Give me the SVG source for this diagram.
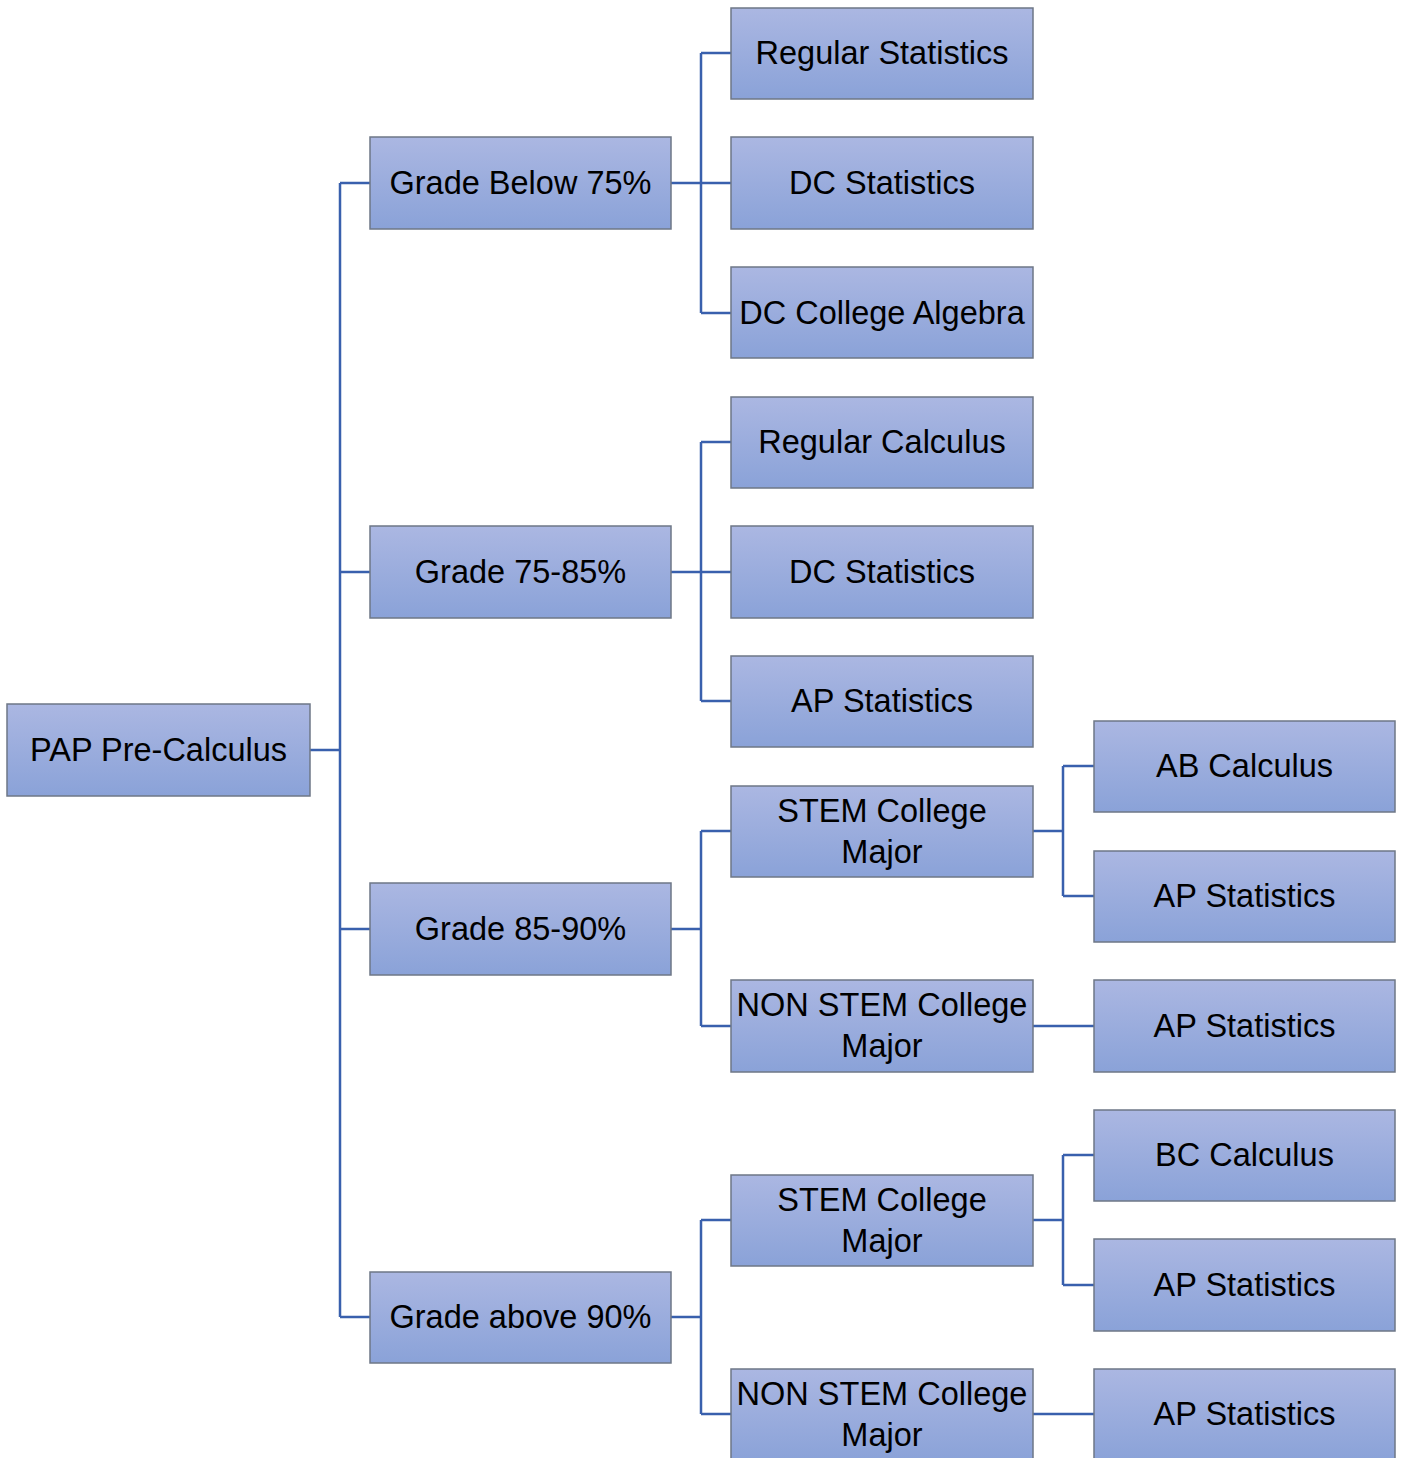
<svg xmlns="http://www.w3.org/2000/svg" width="1408" height="1458" viewBox="0 0 1408 1458">
<defs>
<linearGradient id="g" x1="0" y1="0" x2="0" y2="1">
<stop offset="0" stop-color="#abb7e2"/>
<stop offset="1" stop-color="#8aa2d8"/>
</linearGradient>
</defs>
<style>
.box{fill:url(#g);stroke:#6e7786;stroke-width:1.5}
.t{font-family:"Liberation Sans",Arial,sans-serif;font-size:32.5px;fill:#000;text-anchor:middle}
.c{fill:none;stroke:#3960ad;stroke-width:2.5}
</style>
<rect width="1408" height="1458" fill="#fff"/>
<g id="connectors">
<path class="c" d="M310 750H340M340 183V1317M340 183H370M340 572H370M340 929H370M340 1317H370"/>
<path class="c" d="M671 183H701M701 53V313M701 53H731M701 183H731M701 313H731"/>
<path class="c" d="M671 572H701M701 442V701M701 442H731M701 572H731M701 701H731"/>
<path class="c" d="M671 929H701M701 831V1026M701 831H731M701 1026H731"/>
<path class="c" d="M671 1317H701M701 1220V1414M701 1220H731M701 1414H731"/>
<path class="c" d="M1033 831H1063M1063 766V896M1063 766H1094M1063 896H1094"/>
<path class="c" d="M1033 1026H1094"/>
<path class="c" d="M1033 1220H1063M1063 1155V1285M1063 1155H1094M1063 1285H1094"/>
<path class="c" d="M1033 1414H1094"/>
</g>
<g id="n0"><rect class="box" x="7" y="704" width="303" height="92"/><text class="t" x="158.5" y="761">PAP Pre-Calculus</text></g>
<g id="n1"><rect class="box" x="370" y="137" width="301" height="92"/><text class="t" x="520.5" y="194">Grade Below 75%</text></g>
<g id="n2"><rect class="box" x="370" y="526" width="301" height="92"/><text class="t" x="520.5" y="583">Grade 75-85%</text></g>
<g id="n3"><rect class="box" x="370" y="883" width="301" height="92"/><text class="t" x="520.5" y="940">Grade 85-90%</text></g>
<g id="n4"><rect class="box" x="370" y="1272" width="301" height="91"/><text class="t" x="520.5" y="1328">Grade above 90%</text></g>
<g id="n5"><rect class="box" x="731" y="8" width="302" height="91"/><text class="t" x="882" y="64">Regular Statistics</text></g>
<g id="n6"><rect class="box" x="731" y="137" width="302" height="92"/><text class="t" x="882" y="194">DC Statistics</text></g>
<g id="n7"><rect class="box" x="731" y="267" width="302" height="91"/><text class="t" x="882" y="324">DC College Algebra</text></g>
<g id="n8"><rect class="box" x="731" y="397" width="302" height="91"/><text class="t" x="882" y="453">Regular Calculus</text></g>
<g id="n9"><rect class="box" x="731" y="526" width="302" height="92"/><text class="t" x="882" y="583">DC Statistics</text></g>
<g id="n10"><rect class="box" x="731" y="656" width="302" height="91"/><text class="t" x="882" y="712">AP Statistics</text></g>
<g id="n11"><rect class="box" x="731" y="786" width="302" height="91"/><text class="t" x="882" y="821.5">STEM College</text><text class="t" x="882" y="862.5">Major</text></g>
<g id="n12"><rect class="box" x="731" y="980" width="302" height="92"/><text class="t" x="882" y="1016">NON STEM College</text><text class="t" x="882" y="1057">Major</text></g>
<g id="n13"><rect class="box" x="731" y="1175" width="302" height="91"/><text class="t" x="882" y="1210.5">STEM College</text><text class="t" x="882" y="1251.5">Major</text></g>
<g id="n14"><rect class="box" x="731" y="1369" width="302" height="92"/><text class="t" x="882" y="1404.5">NON STEM College</text><text class="t" x="882" y="1445.5">Major</text></g>
<g id="n15"><rect class="box" x="1094" y="721" width="301" height="91"/><text class="t" x="1244.5" y="777">AB Calculus</text></g>
<g id="n16"><rect class="box" x="1094" y="851" width="301" height="91"/><text class="t" x="1244.5" y="907">AP Statistics</text></g>
<g id="n17"><rect class="box" x="1094" y="980" width="301" height="92"/><text class="t" x="1244.5" y="1037">AP Statistics</text></g>
<g id="n18"><rect class="box" x="1094" y="1110" width="301" height="91"/><text class="t" x="1244.5" y="1166">BC Calculus</text></g>
<g id="n19"><rect class="box" x="1094" y="1239" width="301" height="92"/><text class="t" x="1244.5" y="1296">AP Statistics</text></g>
<g id="n20"><rect class="box" x="1094" y="1369" width="301" height="92"/><text class="t" x="1244.5" y="1425">AP Statistics</text></g>
</svg>
